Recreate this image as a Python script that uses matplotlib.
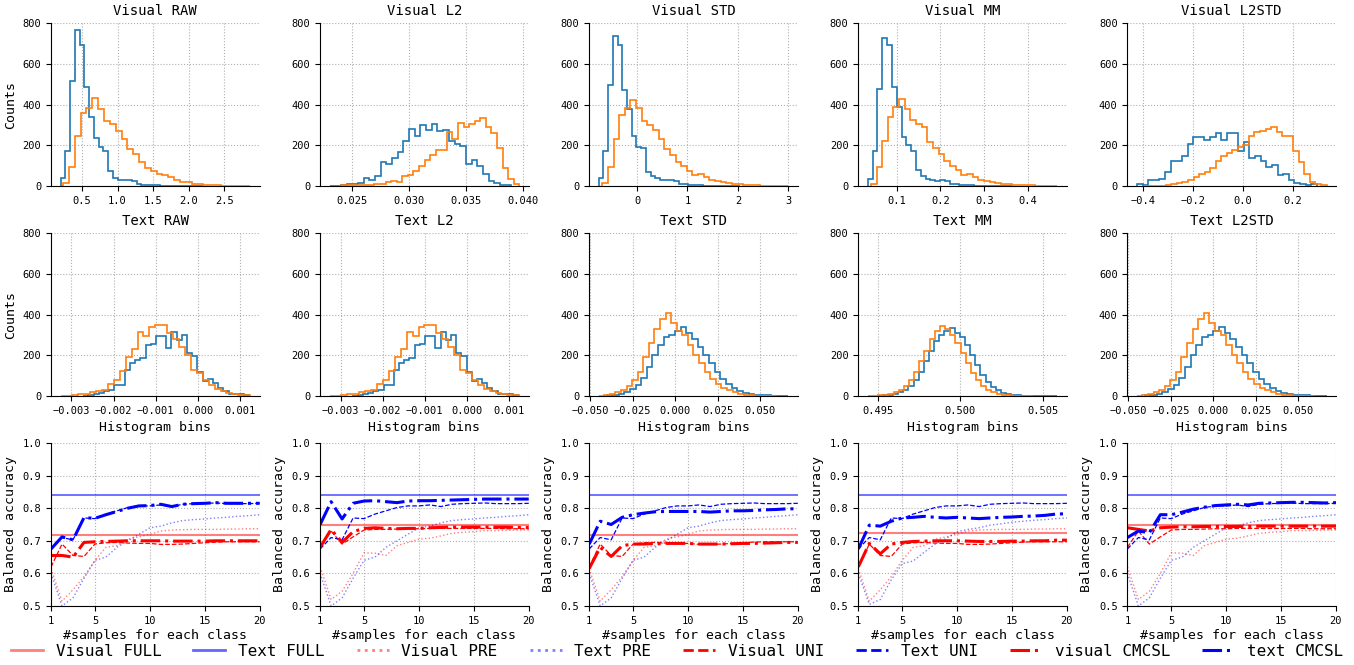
import numpy as np
import matplotlib
matplotlib.use('Agg')
import matplotlib.pyplot as plt

plt.rcParams['font.family'] = ['DejaVu Sans Mono']

norms = ['RAW', 'L2', 'STD', 'MM', 'L2STD']

# ---- histogram data: (lo, hi, counts) for class 0 (blue) and class 1 (orange)
vis_blue = {
    'RAW': (0.20, 2.20, [38, 173, 517, 768, 693, 487, 338, 235, 190, 170, 72, 38, 28, 28, 30,
                         25, 8, 5, 5, 3, 3, 2, 2, 1, 1, 1, 0, 0, 1, 1]),
    'L2': (0.0230, 0.0390, [1, 1, 3, 8, 10, 15, 38, 30, 50, 120, 110, 138, 165, 220, 278, 248,
                            300, 275, 302, 268, 275, 220, 205, 198, 108, 128, 100, 58, 25, 15, 5, 3]),
    'STD': (-0.76, 2.05, [38, 173, 497, 738, 693, 472, 380, 245, 190, 185, 68, 50, 38, 28, 28,
                          32, 25, 8, 10, 5, 3, 3, 2, 2, 1, 1, 1, 0, 0, 1]),
    'MM': (0.034, 0.364, [35, 173, 477, 728, 690, 487, 388, 240, 200, 172, 80, 50, 35, 28, 25,
                          30, 25, 8, 10, 5, 3, 3, 2, 2, 1, 1, 1, 0, 0, 1]),
    'L2STD': (-0.424, 0.295, [8, 5, 28, 28, 35, 68, 125, 122, 145, 205, 240, 240, 228, 242, 258, 228,
                              262, 262, 172, 215, 140, 148, 125, 95, 105, 55, 60, 30, 15, 10, 5, 10]),
}
vis_orange = {
    'RAW': (0.236, 2.86, [15, 92, 248, 358, 382, 433, 380, 318, 305, 270, 230, 182, 155, 120, 90, 75,
                          60, 55, 42, 30, 22, 18, 12, 10, 5, 3, 3, 2, 2, 1, 1, 1]),
    'L2': (0.0240, 0.0397, [3, 3, 5, 5, 5, 5, 8, 10, 18, 25, 22, 48, 55, 75, 98, 128,
                            150, 178, 175, 265, 230, 310, 292, 305, 318, 332, 290, 258, 185, 88, 35, 10]),
    'STD': (-0.69, 3.00, [15, 92, 232, 350, 385, 423, 385, 318, 300, 275, 230, 182, 150, 120, 98, 75,
                          55, 60, 45, 30, 25, 20, 15, 10, 8, 5, 3, 3, 2, 2, 1, 1, 1]),
    'MM': (0.041, 0.467, [10, 92, 220, 340, 388, 428, 380, 322, 305, 288, 218, 188, 158, 125, 100, 78,
                          52, 58, 45, 28, 25, 22, 15, 10, 10, 5, 3, 3, 3, 2, 2, 1, 1]),
    'L2STD': (-0.397, 0.333, [2, 2, 2, 2, 5, 8, 15, 20, 28, 42, 60, 70, 90, 125, 145, 162, 178,
                              190, 200, 248, 265, 272, 282, 292, 265, 248, 245, 170, 120, 60, 20, 8, 5]),
}

txt_raw_blue = (-0.00272, 0.00122, [2, 5, 10, 15, 25, 30, 55, 55, 128, 160, 175, 185, 248, 255, 295, 295,
                                    235, 312, 275, 300, 210, 195, 120, 75, 82, 65, 40, 25, 12, 8, 8, 3])
txt_raw_orange = (-0.00326, 0.00124, [2, 2, 5, 8, 12, 20, 25, 28, 60, 80, 125, 190, 230, 312, 295, 338,
                                      350, 348, 310, 280, 240, 200, 128, 115, 78, 55, 35, 25, 15, 8, 5, 3])
txt_std_blue = (-0.040, 0.0666, [3, 6, 12, 20, 35, 55, 90, 140, 200, 250, 290, 300, 320, 340, 310, 280,
                                 240, 200, 160, 120, 85, 60, 40, 25, 15, 10, 6, 4, 3, 2, 1, 1])
txt_std_orange = (-0.045, 0.060, [2, 5, 10, 18, 30, 50, 80, 120, 190, 260, 330, 380, 405, 360, 320, 300,
                                  250, 200, 160, 120, 85, 60, 40, 28, 18, 10, 6, 4, 2, 2, 1, 1])
txt_mm_blue = (0.4950, 0.5059, [2, 3, 5, 10, 18, 30, 50, 80, 120, 170, 220, 270, 300, 320, 335, 310, 290, 250,
                                200, 150, 105, 70, 45, 28, 16, 10, 6, 4, 2, 1, 1, 1, 0, 0, 1])
txt_mm_orange = (0.4944, 0.5044, [1, 2, 3, 6, 10, 18, 30, 50, 80, 120, 170, 220, 280, 320, 345, 330,
                                  300, 260, 210, 160, 115, 80, 50, 30, 18, 10, 6, 3, 2, 1, 1, 1])
txt_blue = {'RAW': txt_raw_blue, 'L2': txt_raw_blue, 'STD': txt_std_blue,
            'MM': txt_mm_blue, 'L2STD': txt_std_blue}
txt_orange = {'RAW': txt_raw_orange, 'L2': txt_raw_orange, 'STD': txt_std_orange,
              'MM': txt_mm_orange, 'L2STD': txt_std_orange}
txt_ticks = {'STD': [-0.05, -0.025, 0.0, 0.025, 0.05],
             'MM': [0.495, 0.500, 0.505],
             'L2STD': [-0.05, -0.025, 0.0, 0.025, 0.05]}

# ---- few-shot accuracy data
shots = np.arange(1, 21)
text_full = [0.842, 0.842, 0.842, 0.839, 0.842]
visual_full = [0.717, 0.748, 0.717, 0.724, 0.747]

text_pre = [0.600, 0.500, 0.525, 0.585, 0.640, 0.650, 0.680, 0.700, 0.720, 0.740,
            0.745, 0.755, 0.762, 0.765, 0.767, 0.770, 0.772, 0.775, 0.777, 0.780]
text_pre_mm = [0.600, 0.505, 0.520, 0.580, 0.630, 0.638, 0.665, 0.690, 0.707, 0.728,
               0.735, 0.740, 0.748, 0.752, 0.757, 0.760, 0.763, 0.765, 0.768, 0.770]
text_uni = [0.675, 0.710, 0.703, 0.770, 0.768, 0.782, 0.792, 0.802, 0.807, 0.807,
            0.810, 0.805, 0.812, 0.814, 0.815, 0.816, 0.814, 0.814, 0.814, 0.815]
visual_pre_a = [0.615, 0.515, 0.550, 0.590, 0.640, 0.680, 0.685, 0.705, 0.712, 0.720,
                0.730, 0.733, 0.734, 0.735, 0.735, 0.735, 0.736, 0.736, 0.737, 0.737]
visual_pre_b = [0.620, 0.520, 0.545, 0.600, 0.663, 0.662, 0.655, 0.685, 0.695, 0.705,
                0.708, 0.715, 0.723, 0.726, 0.728, 0.731, 0.731, 0.732, 0.733, 0.733]
visual_uni_a = [0.620, 0.690, 0.655, 0.652, 0.690, 0.694, 0.695, 0.693, 0.692, 0.692,
                0.689, 0.689, 0.690, 0.692, 0.694, 0.696, 0.697, 0.697, 0.697, 0.697]
visual_uni_b = [0.680, 0.730, 0.690, 0.712, 0.733, 0.735, 0.735, 0.736, 0.737, 0.737,
                0.738, 0.738, 0.738, 0.738, 0.738, 0.738, 0.738, 0.737, 0.737, 0.737]

text_cmcsl = [
    [0.675, 0.712, 0.703, 0.771, 0.769, 0.780, 0.790, 0.800, 0.807, 0.808,
     0.812, 0.805, 0.812, 0.814, 0.815, 0.817, 0.815, 0.815, 0.815, 0.815],
    [0.750, 0.820, 0.767, 0.815, 0.822, 0.823, 0.820, 0.817, 0.822, 0.823,
     0.823, 0.824, 0.825, 0.826, 0.827, 0.828, 0.828, 0.828, 0.828, 0.828],
    [0.690, 0.760, 0.750, 0.772, 0.780, 0.785, 0.789, 0.790, 0.790, 0.790,
     0.790, 0.788, 0.790, 0.792, 0.792, 0.793, 0.795, 0.796, 0.798, 0.798],
    [0.675, 0.748, 0.745, 0.760, 0.770, 0.772, 0.775, 0.772, 0.770, 0.772,
     0.770, 0.768, 0.770, 0.772, 0.773, 0.775, 0.776, 0.778, 0.782, 0.783],
    [0.710, 0.730, 0.725, 0.780, 0.780, 0.788, 0.797, 0.803, 0.808, 0.810,
     0.812, 0.810, 0.815, 0.816, 0.817, 0.818, 0.818, 0.817, 0.816, 0.817],
]
visual_cmcsl = [
    [0.655, 0.655, 0.650, 0.695, 0.697, 0.698, 0.699, 0.700, 0.700, 0.700,
     0.700, 0.699, 0.699, 0.699, 0.699, 0.700, 0.700, 0.700, 0.700, 0.700],
    [0.680, 0.735, 0.695, 0.728, 0.738, 0.740, 0.738, 0.737, 0.738, 0.738,
     0.740, 0.741, 0.742, 0.742, 0.742, 0.742, 0.742, 0.742, 0.741, 0.741],
    [0.615, 0.680, 0.652, 0.685, 0.690, 0.690, 0.692, 0.692, 0.692, 0.692,
     0.690, 0.690, 0.690, 0.691, 0.692, 0.692, 0.693, 0.694, 0.695, 0.695],
    [0.620, 0.692, 0.660, 0.690, 0.695, 0.698, 0.699, 0.700, 0.700, 0.700,
     0.699, 0.698, 0.698, 0.698, 0.699, 0.699, 0.700, 0.700, 0.702, 0.702],
    [0.740, 0.735, 0.730, 0.740, 0.742, 0.743, 0.743, 0.744, 0.744, 0.744,
     0.744, 0.744, 0.745, 0.745, 0.745, 0.745, 0.745, 0.745, 0.745, 0.745],
]
text_pre_all = [text_pre, text_pre, text_pre, text_pre_mm, text_pre]
visual_pre_all = [visual_pre_a, visual_pre_b, visual_pre_a, visual_pre_a, visual_pre_b]
visual_uni_all = [visual_uni_a, visual_uni_b, visual_uni_a, visual_uni_a, visual_uni_b]

TICK = 7.5
LAB = 9.5


def style(ax):
    ax.spines['top'].set_visible(False)
    ax.spines['right'].set_visible(False)
    ax.grid(True, ls=':', color='#b0b0b0', lw=0.8)
    ax.set_axisbelow(True)
    ax.tick_params(labelsize=TICK)


def draw_hist(ax, blue, orange):
    for (lo, hi, cnt), c in [(blue, 'tab:blue'), (orange, 'tab:orange')]:
        edges = np.linspace(lo, hi, len(cnt) + 1)
        ax.stairs(cnt, edges, color=c, lw=1.2)
    ax.set_ylim(0, 800)
    ax.set_yticks([0, 200, 400, 600, 800])
    style(ax)


fig, axes = plt.subplots(3, 5, figsize=(13.54, 6.65), dpi=100)
fig.subplots_adjust(left=0.0377, right=0.9867, top=0.9654, bottom=0.0887,
                    wspace=0.29, hspace=0.288)

for j, n in enumerate(norms):
    ax = axes[0, j]
    draw_hist(ax, vis_blue[n], vis_orange[n])
    ax.set_title('Visual ' + n, fontsize=10)

    ax = axes[1, j]
    draw_hist(ax, txt_blue[n], txt_orange[n])
    if n in txt_ticks:
        ax.set_xticks(txt_ticks[n])
    ax.set_title('Text ' + n, fontsize=10)
    ax.set_xlabel('Histogram bins', fontsize=LAB)

    ax = axes[2, j]
    ax.axhline(visual_full[j], color='red', alpha=0.5, lw=1.5, label='Visual FULL')
    ax.axhline(text_full[j], color='blue', alpha=0.6, lw=1.3, label='Text FULL')
    ax.plot(shots, visual_pre_all[j], color='red', ls=':', lw=1.0, alpha=0.5, label='Visual PRE')
    ax.plot(shots, text_pre_all[j], color='blue', ls=':', lw=1.0, alpha=0.5, label='Text PRE')
    ax.plot(shots, visual_uni_all[j], color='red', ls='--', lw=0.9, label='Visual UNI')
    ax.plot(shots, text_uni, color='blue', ls='--', lw=0.9, label='Text UNI')
    ax.plot(shots, visual_cmcsl[j], color='red', ls='-.', lw=2.2, label='visual CMCSL')
    ax.plot(shots, text_cmcsl[j], color='blue', ls='-.', lw=2.2, label='text CMCSL')
    ax.set_xlim(1, 20)
    ax.set_ylim(0.5, 1.0)
    ax.set_xticks([1, 5, 10, 15, 20])
    ax.set_yticks(np.arange(0.5, 1.01, 0.1))
    ax.set_xlabel('#samples for each class', fontsize=LAB, labelpad=2)
    ax.set_ylabel('Balanced accuracy', fontsize=LAB)
    style(ax)

axes[0, 0].set_ylabel('Counts', fontsize=LAB)
axes[1, 0].set_ylabel('Counts', fontsize=LAB)

h, l = axes[2, 0].get_legend_handles_labels()
leg = fig.legend(h, l, loc='lower center', ncol=8, frameon=False, fontsize=11.5,
                 bbox_to_anchor=(0.5, -0.012))
for ln in leg.get_lines():
    ln.set_linewidth(max(ln.get_linewidth(), 2.0))

fig.savefig('out.png', dpi=100)
